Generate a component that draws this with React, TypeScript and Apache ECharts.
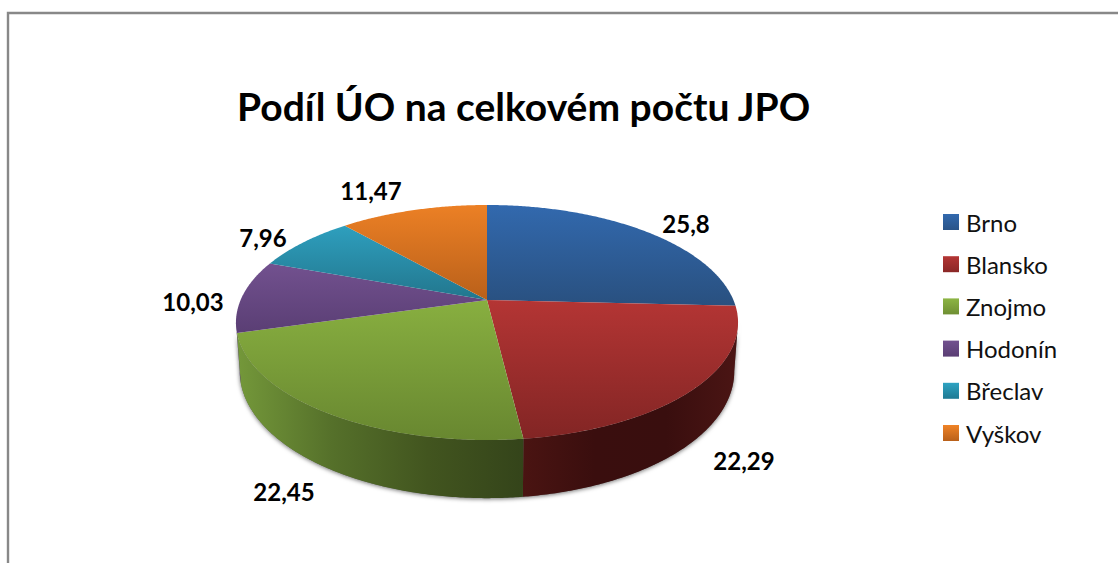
import React, { useEffect, useRef } from "react";
import * as echarts from "echarts";

const categories = ["Brno", "Blansko", "Znojmo", "Hodonín", "Břeclav", "Vyškov"];
const values = [25.8, 22.29, 22.45, 10.03, 7.96, 11.47];
const titleText = "Podíl ÚO na celkovém počtu JPO";

const topColors = [
  ["#3269ae", "#29507f"],
  ["#b43534", "#822524"],
  ["#88af40", "#688730"],
  ["#72518f", "#5a3e74"],
  ["#2e9fbe", "#22768d"],
  ["#ec8025", "#b9601a"],
];
const swatchColors = [
  ["#3269ae", "#2a5488"],
  ["#b43534", "#8a2726"],
  ["#8db544", "#6f8f33"],
  ["#72518f", "#5a3e74"],
  ["#2ea3c2", "#1f7a93"],
  ["#f08326", "#b9601a"],
];
const wallColors = [
  ["#29507f", "#1c3a5c"],
  ["#4a1412", "#3a0e0e", "#390e0e", "#4b1514"],
  ["#74983a", "#55702a", "#42551f", "#34441a"],
  ["#5a3e74", "#5a3e74"],
  ["#22768d", "#22768d"],
  ["#b9601a", "#b9601a"],
];
const labelCentres = [
  [686, 223],
  [744, 460],
  [284, 491],
  [193, 301],
  [263, 237],
  [371, 190],
];

const CX = 487;
const CY = 300;
const R = 246.4;
const A = 113.2;
const K = 0.1915;
const DEPTH = 47;
const BOTTOM_SCALE = 0.985;
const FONT = "Lato, 'Open Sans', sans-serif";

const total = values.reduce((a, b) => a + b, 0);

function project(deg: number, depth: number, scale: number) {
  const t = (deg * Math.PI) / 180;
  const u = Math.sin(t);
  const v = -Math.cos(t);
  const w = 1 - K * v;
  return [CX + (R * scale * u) / w, CY + (A * v + depth) / w];
}

function arc(a0: number, a1: number, depth: number, scale: number) {
  const pts: number[][] = [];
  const n = Math.max(2, Math.ceil(Math.abs(a1 - a0) * 2));
  for (let i = 0; i <= n; i++) pts.push(project(a0 + ((a1 - a0) * i) / n, depth, scale));
  return pts;
}

const stops = (c: string[]) =>
  c.map((color, i) => ({ offset: i / (c.length - 1), color }));
const vGrad = (c: string[]) => ({ type: "linear", x: 0, y: 0, x2: 0, y2: 1, colorStops: stops(c) });
const hGrad = (c: string[]) => ({ type: "linear", x: 0, y: 0, x2: 1, y2: 0, colorStops: stops(c) });

const VIS0 = (Math.acos(-K) * 180) / Math.PI;
const VIS1 = 360 - VIS0;

function sliceRange(i: number) {
  const before = values.slice(0, i).reduce((a, b) => a + b, 0);
  return [(before / total) * 360, ((before + values[i]) / total) * 360];
}

function makeSeries(i: number) {
  return {
    type: "custom",
    name: categories[i],
    coordinateSystem: "none",
    silent: true,
    data: [values[i]],
    itemStyle: { color: vGrad(swatchColors[i]) },
    renderItem: () => {
      const [a0, a1] = sliceRange(i);
      const children: any[] = [];
      const w0 = Math.max(a0, VIS0);
      const w1 = Math.min(a1, VIS1);
      if (w1 > w0) {
        const pts = [...arc(w0, w1, 0, 1), ...arc(w1, w0, DEPTH, BOTTOM_SCALE)];
        children.push({
          type: "polygon",
          shape: { points: pts },
          style: { fill: hGrad(wallColors[i]) },
        });
      }
      const top = [[CX, CY], ...arc(a0, a1, 0, 1)];
      children.push({
        type: "polygon",
        shape: { points: top },
        style: { fill: vGrad(topColors[i]) },
      });
      children.push({
        type: "text",
        style: {
          text: String(values[i]).replace(".", ","),
          x: labelCentres[i][0],
          y: labelCentres[i][1],
          align: "center",
          verticalAlign: "middle",
          fill: "#000",
          font: `bold 24px ${FONT}`,
        },
      });
      return { type: "group", children };
    },
  };
}

const shadowSeries = {
  type: "custom",
  name: "shadow",
  coordinateSystem: "none",
  silent: true,
  data: [total],
  renderItem: () => ({
    type: "polygon",
    shape: { points: [...arc(VIS0, VIS1, 0, 1), ...arc(VIS1, VIS0, DEPTH, BOTTOM_SCALE)] },
    style: { fill: "#666", shadowBlur: 4, shadowColor: "rgba(0,0,0,0.55)", shadowOffsetY: 1 },
  }),
};

export default function App() {
  const ref = useRef<HTMLDivElement>(null);
  useEffect(() => {
    const chart = echarts.init(ref.current!, undefined, { renderer: "svg" });
    chart.setOption({
      animation: false,
      backgroundColor: "#fff",
      title: {
        text: titleText,
        left: 237,
        top: 86,
        padding: 0,
        textStyle: { fontFamily: FONT, fontWeight: "bold", fontSize: 39, color: "#000" },
      },
      legend: {
        orient: "vertical",
        left: 943,
        top: 210,
        padding: 0,
        itemWidth: 16,
        itemHeight: 16,
        itemGap: 18.2,
        selectedMode: false,
        textStyle: { fontFamily: FONT, fontSize: 24, color: "#111", padding: [0, 0, 0, 2] },
        data: categories.map((name, i) => ({
          name,
          icon: "rect",
          itemStyle: { color: vGrad(swatchColors[i]) },
        })),
      },
      graphic: [
        {
          type: "polyline",
          shape: { points: [[8, 563], [8, 13], [1118, 13]] },
          style: { fill: "none", stroke: "#888", lineWidth: 2.4 },
          silent: true,
        },
      ],
      series: [shadowSeries, ...categories.map((_, i) => makeSeries(i))],
    });
    return () => chart.dispose();
  }, []);
  return <div ref={ref} style={{ position: "fixed", left: 0, top: 0, width: 1118, height: 563 }} />;
}
